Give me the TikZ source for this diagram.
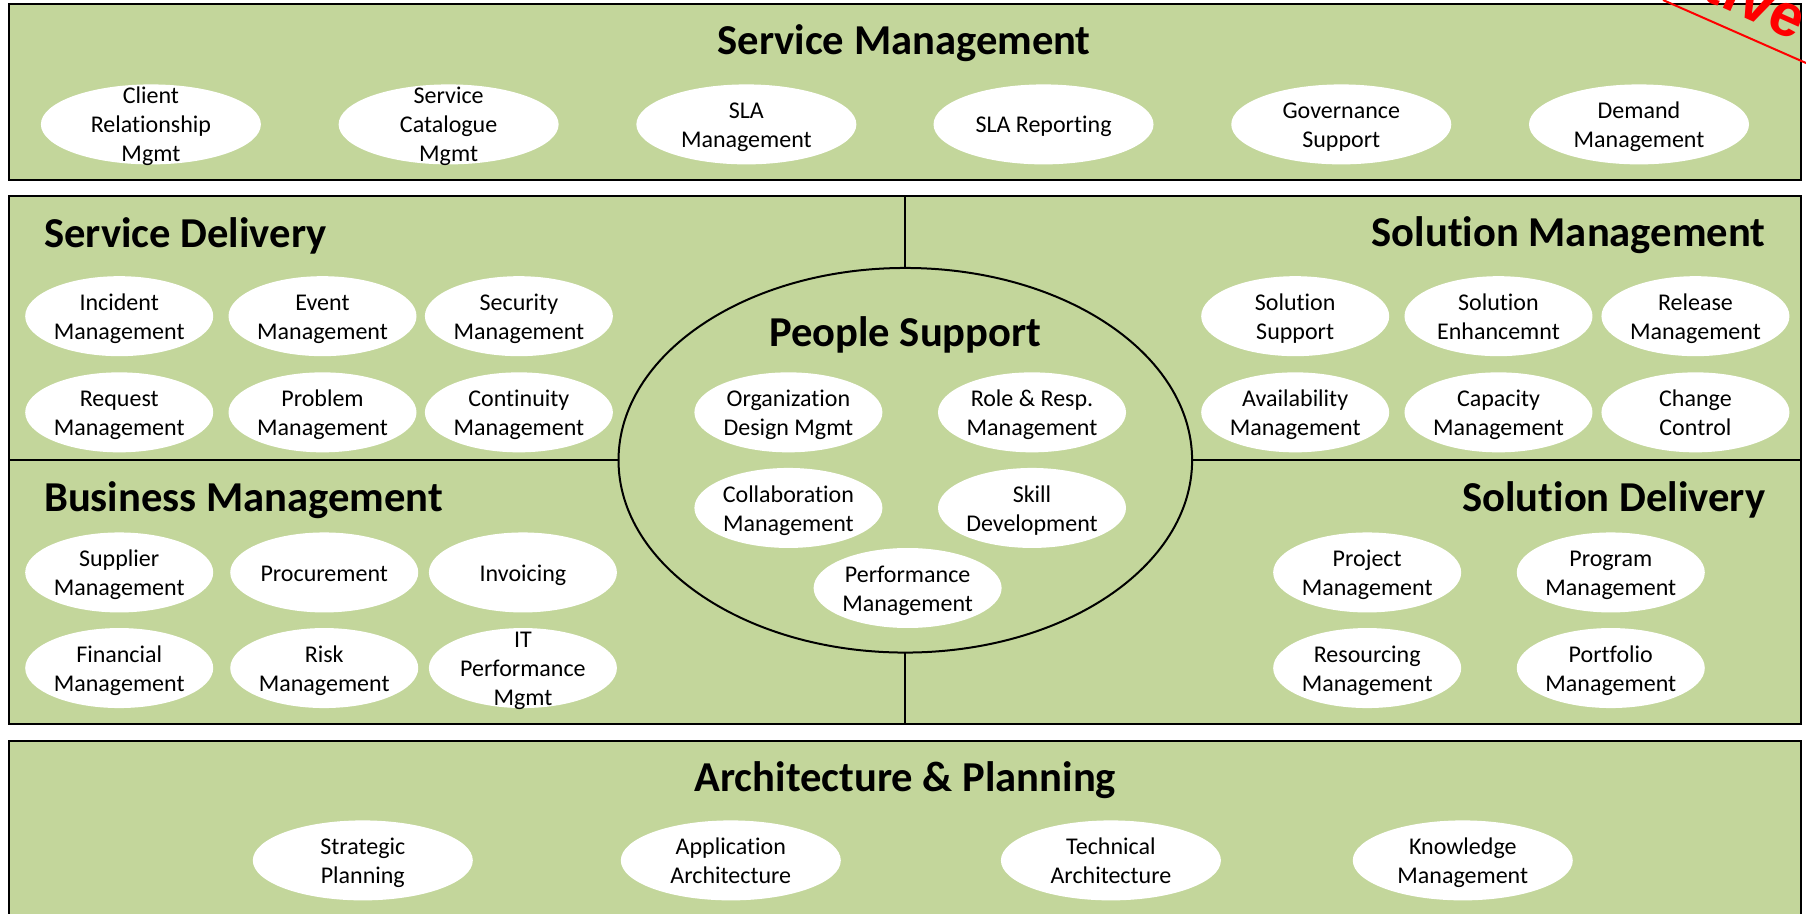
\documentclass[tikz,border=0pt]{standalone}
\usepackage{fontspec}
\setmainfont[Ligatures=NoCommon]{Carlito}
\newfontfamily\stampfont{Liberation Sans}
\usetikzlibrary{shapes.geometric}
\definecolor{panelgreen}{HTML}{C3D69B}
\newcommand{\ovtext}[1]{\smash{\raisebox{-4.4pt}{\begin{tabular}[c]{@{}c@{}}#1\end{tabular}}}}
\tikzset{
  x=0.57589pt,y=-0.57589pt,
  panel/.style={draw=black,line width=1pt,fill=panelgreen,rectangle,inner sep=0pt,outer sep=0pt,anchor=north west},
  oval/.style={ellipse,fill=white,inner sep=0pt,minimum height=40pt,font=\fontsize{12}{14.5}\selectfont},
  ovalS/.style={oval,minimum width=94pt},
  ovalL/.style={oval,minimum width=110pt},
  heading/.style={font=\fontsize{21.3}{26}\selectfont\bfseries,inner sep=0pt},
  divider/.style={draw=black,line width=1pt},
  stamp/.style={red,line width=1pt}
}
\begin{document}
\begin{tikzpicture}
\useasboundingbox (0,0) rectangle (1568,792.7);
\clip (0,0) rectangle (1568,792.7);
\node[panel,minimum width=896.1pt,minimum height=88.2pt] (top) at (8,3.5) {};
\node[panel,minimum width=896.1pt,minimum height=264pt] (mid) at (8,169.8) {};
\node[panel,minimum width=896.1pt,minimum height=120pt] (bot) at (8,643) {};
\node[ellipse,draw=black,line width=1pt,fill=panelgreen,inner sep=0pt,outer sep=0pt,minimum width=286.8pt,minimum height=192.3pt] (people) at (786,399.6) {};
\draw[divider] (people.west) -- (people.west -| mid.west);
\draw[divider] (people.east) -- (people.east -| mid.east);
\draw[divider] (people.north) -- (people.north |- mid.north);
\draw[divider] (people.south) -- (people.south |- mid.south);

\node[heading] (t1) at (785,37.5) {Service Management};
\node[heading,anchor=west] (t2) at (38,204.5) {Service Delivery};
\node[heading,anchor=east] (t3) at (1533,204.5) {Solution Management};
\node[heading] (t4) at (786,290.5) {People Support};
\node[heading,anchor=west] (t5) at (38,434.5) {Business Management};
\node[heading,anchor=east] (t6) at (1533,434) {Solution Delivery};
\node[heading] (t7) at (786,677) {Architecture \& Planning};

\node[ovalL] (a1) at (131,108) {\ovtext{Client\\Relationship\\Mgmt}};
\node[ovalL] (a2) at (389.5,108) {\ovtext{Service\\Catalogue\\Mgmt}};
\node[ovalL] (a3) at (648,108) {\ovtext{SLA\\Management}};
\node[ovalL] (a4) at (906,108) {\ovtext{SLA Reporting}};
\node[ovalL] (a5) at (1164.5,108) {\ovtext{Governance\\Support}};
\node[ovalL] (a6) at (1423,108) {\ovtext{Demand\\Management}};

\node[ovalS] (b1) at (103.5,274.5) {\ovtext{Incident\\Management}};
\node[ovalS] (b2) at (280,274.5) {\ovtext{Event\\Management}};
\node[ovalS] (b3) at (450.5,274.5) {\ovtext{Security\\Management}};
\node[ovalS] (b4) at (103.5,358) {\ovtext{Request\\Management}};
\node[ovalS] (b5) at (280,358) {\ovtext{Problem\\Management}};
\node[ovalS] (b6) at (450.5,358) {\ovtext{Continuity\\Management}};

\node[ovalS] (c1) at (1124.5,274.5) {\ovtext{Solution\\Support}};
\node[ovalS] (c2) at (1301,274.5) {\ovtext{Solution\\Enhancemnt}};
\node[ovalS] (c3) at (1472,274.5) {\ovtext{Release\\Management}};
\node[ovalS] (c4) at (1124.5,358) {\ovtext{Availability\\Management}};
\node[ovalS] (c5) at (1301,358) {\ovtext{Capacity\\Management}};
\node[ovalS] (c6) at (1472,358) {\ovtext{Change\\Control}};

\node[ovalS] (d1) at (684.5,358) {\ovtext{Organization\\Design Mgmt}};
\node[ovalS] (d2) at (896,358) {\ovtext{Role \& Resp.\\Management}};
\node[ovalS] (d3) at (684.5,441) {\ovtext{Collaboration\\Management}};
\node[ovalS] (d4) at (896,441) {\ovtext{Skill\\Development}};
\node[ovalS] (d5) at (788,510.5) {\ovtext{Performance\\Management}};

\node[ovalS] (e1) at (103.5,497) {\ovtext{Supplier\\Management}};
\node[ovalS] (e2) at (281.5,497) {\ovtext{Procurement}};
\node[ovalS] (e3) at (454,497) {\ovtext{Invoicing}};
\node[ovalS] (e4) at (103.5,580) {\ovtext{Financial\\Management}};
\node[ovalS] (e5) at (281.5,580) {\ovtext{Risk\\Management}};
\node[ovalS] (e6) at (454,580) {\ovtext{IT\\Performance\\Mgmt}};

\node[ovalS] (f1) at (1187,497) {\ovtext{Project\\Management}};
\node[ovalS] (f2) at (1398.5,497) {\ovtext{Program\\Management}};
\node[ovalS] (f3) at (1187,580) {\ovtext{Resourcing\\Management}};
\node[ovalS] (f4) at (1398.5,580) {\ovtext{Portfolio\\Management}};

\node[ovalL] (g1) at (315,747) {\ovtext{Strategic\\Planning}};
\node[ovalL] (g2) at (634.5,747) {\ovtext{Application\\Architecture}};
\node[ovalL] (g3) at (964.5,747) {\ovtext{Technical\\Architecture}};
\node[ovalL] (g4) at (1270,747) {\ovtext{Knowledge\\Management}};

\coordinate (s1) at (1443.8,0);
\coordinate (s2) at (1568,54.7);
\draw[stamp] (s1) -- (s2);
\node[red,font=\stampfont\fontsize{30}{36}\selectfont\bfseries,rotate=-24,inner sep=0pt,anchor=base east] (st) at (1559,35.5) {tive};
\end{tikzpicture}
\end{document}
